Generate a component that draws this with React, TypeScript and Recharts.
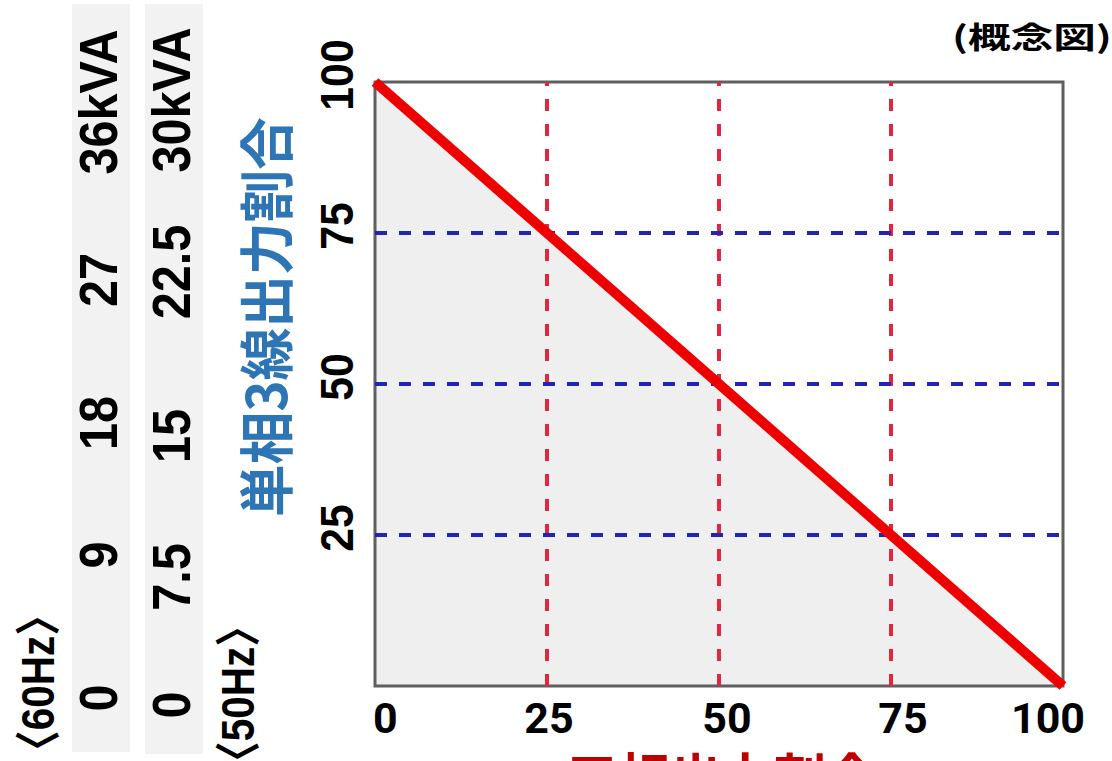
import React from 'react';
import {
  ComposedChart, Area, Line, XAxis, YAxis, ReferenceLine, ReferenceArea,
} from 'recharts';

// three-phase share (x) vs single-phase 3-wire share (y), in %
const threePhaseShare = [0, 100];
const singlePhaseShare = [100, 0];
const xTicks = [0, 25, 50, 75, 100];
const yTicks = [25, 50, 75, 100];
const guideValues = [25, 50, 75];

// kVA scales printed beside the chart
const hz60Labels = ['0', '9', '18', '27', '36kVA'];
const hz50Labels = ['0', '7.5', '15', '22.5', '30kVA'];

// layout only (centre y of each scale label)
const hz60LabelY = [698, 555, 423, 280, 102];
const hz50LabelY = [705, 577, 436, 272, 100];
const xLabelNudge = [9, 2, 8, 12, -14];

const W = 1112;
const H = 761;
const PLOT_BOTTOM = 686;

const LATIN = '"Liberation Sans", Arial, "Noto Sans CJK JP", sans-serif';
const CJK = '"Noto Sans CJK JP", "Noto Sans CJK SC", sans-serif';

const chartData = threePhaseShare.map((x, i) => ({ x, y: singlePhaseShare[i] }));

// text turned to read bottom-to-top; (x, y) = baseline x, centre y
const RotText: React.FC<{
  x: number; y: number; text: string; size: number; color?: string;
  family?: string; sx?: number; length?: number;
}> = ({ x, y, text, size, color = '#000', family = LATIN, sx = 1, length }) => (
  <text
    transform={`translate(${x},${y}) rotate(-90) scale(${sx},1)`}
    textAnchor="middle"
    fontFamily={family}
    fontWeight="bold"
    fontSize={size}
    fill={color}
    textLength={length}
    lengthAdjust={length ? 'spacingAndGlyphs' : undefined}
  >
    {text}
  </text>
);

const XTick: React.FC<any> = ({ x, payload, index }) => {
  const anchor = payload.value === 0 ? 'start' : payload.value === 100 ? 'end' : 'middle';
  const dx = payload.value === 0 ? -2 : payload.value === 100 ? 22 : xLabelNudge[index] ?? 0;
  return (
    <text
      x={x + dx}
      y={PLOT_BOTTOM + 47}
      textAnchor={anchor}
      fontFamily="Roboto, sans-serif"
      fontWeight="bold"
      fontSize={43}
      fill="#000"
    >
      {payload.value}
    </text>
  );
};

const YTick: React.FC<any> = ({ y, payload }) => (
  <RotText x={353} y={y - 7} text={String(payload.value)} size={46} sx={0.93} />
);

const Backdrop: React.FC = () => (
  <svg width={W} height={H} style={{ position: 'absolute', left: 0, top: 0 }}>
    <rect x={72} y={4} width={58} height={748} fill="#f2f2f2" />
    <rect x={145} y={4} width={58} height={750} fill="#f2f2f2" />
    {hz60Labels.map((t, i) => (
      <RotText key={'a' + t} x={117} y={hz60LabelY[i]} text={t} size={54} sx={0.9} />
    ))}
    {hz50Labels.map((t, i) => (
      <RotText key={'b' + t} x={190} y={hz50LabelY[i]} text={t} size={54} sx={0.9} />
    ))}
    <RotText x={54} y={683} text="〈60Hz〉" size={46} sx={0.88} />
    <RotText x={254} y={694} text="〈50Hz〉" size={46} sx={0.88} />
    <RotText x={287} y={317} text="単相3線出力割合" size={55} color="#2e75b6" family={CJK} length={400} />
    <text
      x={722}
      y={797}
      textAnchor="middle"
      fontFamily={CJK}
      fontWeight="bold"
      fontSize={52}
      fill="#c00000"
    >
      三相出力割合
    </text>
    <text
      transform="translate(952,48) scale(1.42,1)"
      fontFamily={CJK}
      fontWeight="bold"
      fontSize={30}
      fill="#000"
    >
      (概念図)
    </text>
  </svg>
);

const App: React.FC = () => (
  <div style={{ position: 'absolute', left: 0, top: 0, width: W, height: H, background: '#fff' }}>
    <Backdrop />
    <div style={{ position: 'absolute', left: 0, top: 0 }}>
      <ComposedChart
        width={W}
        height={H}
        data={chartData}
        margin={{ top: 82, right: 49, bottom: 0, left: 315 }}
      >
        <XAxis
          dataKey="x"
          type="number"
          domain={[0, 100]}
          ticks={xTicks}
          axisLine={false}
          tickLine={false}
          height={75}
          tick={<XTick />}
          interval={0}
        />
        <YAxis
          type="number"
          domain={[0, 100]}
          ticks={yTicks}
          axisLine={false}
          tickLine={false}
          width={60}
          tick={<YTick />}
          interval={0}
        />
        <Area
          type="linear"
          dataKey="y"
          stroke="none"
          fill="#efefef"
          fillOpacity={1}
          isAnimationActive={false}
        />
        <ReferenceArea x1={0} x2={100} y1={0} y2={100} fill="none" stroke="#5f5f5f" strokeWidth={3} />
        {guideValues.map(v => (
          <ReferenceLine key={'v' + v} x={v} stroke="#e3263f" strokeWidth={4} strokeDasharray="12 13" />
        ))}
        {guideValues.map(v => (
          <ReferenceLine key={'h' + v} y={v} stroke="#2424b4" strokeWidth={4} strokeDasharray="12 12" />
        ))}
        <Line
          type="linear"
          dataKey="y"
          stroke="#ee0000"
          strokeWidth={10}
          dot={false}
          activeDot={false}
          isAnimationActive={false}
        />
      </ComposedChart>
    </div>
  </div>
);

export default App;
